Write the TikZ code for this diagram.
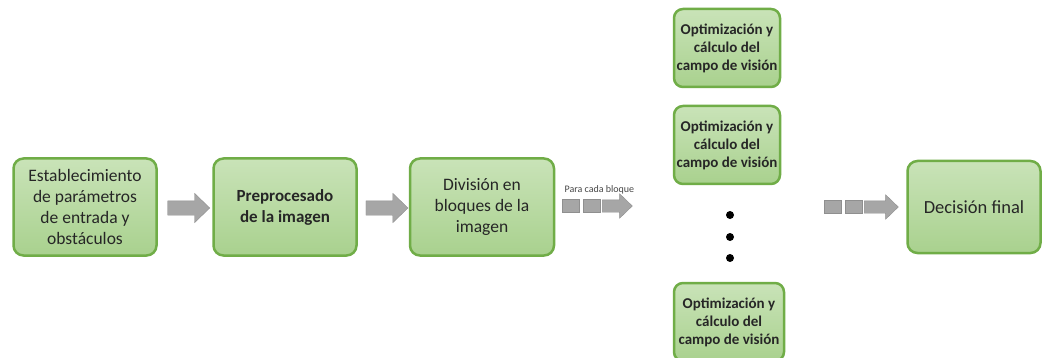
\documentclass[tikz,border=0pt]{standalone}
\usepackage{fontspec}
\setmainfont{Carlito}
\usetikzlibrary{positioning, shapes.arrows, calc}
\definecolor{boxgreen}{HTML}{A9D18E}
\definecolor{boxlight}{HTML}{C9E3B8}
\definecolor{edgegreen}{HTML}{70AD47}
\definecolor{arrowgray}{HTML}{A6A6A6}
\definecolor{arrowedge}{HTML}{8F8F8F}
\definecolor{textdark}{HTML}{262626}

\tikzset{
    paso/.style={draw=edgegreen, line width=2.5pt, rounded corners=10pt,
        top color=boxlight, bottom color=boxgreen, text=textdark,
        align=center, inner sep=2pt, font=\fontsize{17.5}{21}\selectfont},
    pasochico/.style={paso, rounded corners=9pt, minimum width=106pt, minimum height=78pt,
        inner sep=1pt, font=\bfseries\fontsize{15}{18}\selectfont},
    flecha/.style={single arrow, fill=arrowgray, draw=arrowedge, line width=0.4pt,
        minimum height=42pt, inner xsep=0pt, inner ysep=7pt,
        single arrow head extend=7.5pt, single arrow tip angle=88},
    flechita/.style={flecha, minimum height=30pt, inner ysep=6pt,
        single arrow head extend=6pt},
    cuadro/.style={fill=arrowgray, draw=arrowedge, line width=0.4pt,
        minimum width=17pt, minimum height=13pt, inner sep=0pt},
}

\begin{document}
\begin{tikzpicture}[x=1pt, y=-1pt]
        \clip (0,0) rectangle (1043,358);
        \fill[white] (0,0) rectangle (1043,358);

        % Pasos principales
        \node[paso, minimum width=143pt, minimum height=97pt] (param) at (85,207)
            {Establecimiento\\de parámetros\\de entrada y\\obstáculos};
        \node[paso, minimum width=143pt, minimum height=97pt,
            font=\bfseries\fontsize{17}{21}\selectfont] (prep) at (285,207)
            {Preprocesado\\de la imagen};
        \node[paso, minimum width=144pt, minimum height=97pt] (divis) at (482,207)
            {División en\\bloques de la\\imagen};

        % Bloques de optimizacion
        \node[pasochico] (opt_a) at (727,48) {Optimización y\\cálculo del\\campo de visión};
        \node[pasochico] (opt_b) at (727,145) {Optimización y\\cálculo del\\campo de visión};
        \node[pasochico, minimum width=110pt] (opt_n) at (729,322) {Optimización y\\cálculo del\\campo de visión};

        % Puntos suspensivos
        \foreach \y in {215,237,258}
            \fill (730,\y) circle (4pt);

        \node[paso, minimum width=133pt, minimum height=92pt,
            font=\fontsize{18.5}{21}\selectfont] (decis) at (974,207) {Decisión final};

        % Flechas grises
        \node[flecha] (fl_a) at ($(param.east)!0.5!(prep.west)+(0,1)$) {};
        \node[flecha] (fl_b) at ($(prep.east)!0.5!(divis.west)+(0,1)$) {};

        % Flechas discontinuas
        \node[cuadro] (sq_a1) at (570.5,206) {};
        \node[cuadro, right=3.5pt of sq_a1] (sq_a2) {};
        \node[flechita, right=2pt of sq_a2] (fl_c) {};
        \node[font=\fontsize{10}{11}\selectfont, text=textdark!85, above=2pt of sq_a2,
            xshift=8pt] (cada) {Para cada bloque};

        \node[cuadro] (sq_b1) at (832.5,207) {};
        \node[cuadro, right=3.5pt of sq_b1] (sq_b2) {};
        \node[flechita, minimum height=34pt, right=2pt of sq_b2] (fl_d) {};
    \end{tikzpicture}
\end{document}
